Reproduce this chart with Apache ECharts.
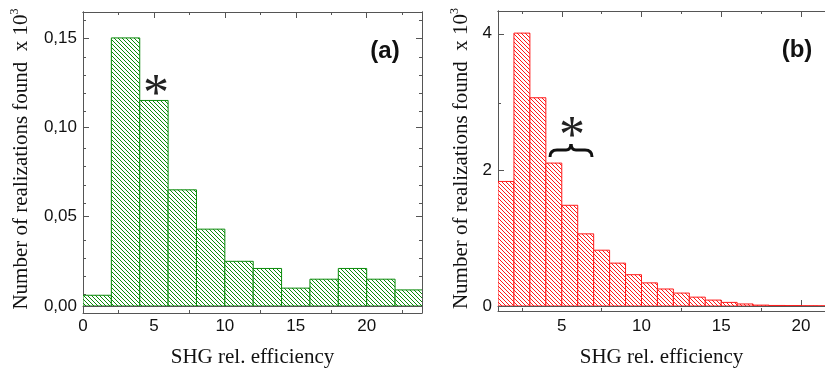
<!DOCTYPE html>
<html>
<head>
<meta charset="utf-8">
<script src="https://cdn.jsdelivr.net/npm/echarts@6/dist/echarts.min.js"></script>
<style>
  html, body { margin: 0; padding: 0; background: #fff; }
  #chart { width: 825px; height: 373px; }
</style>
</head>
<body>
<div id="chart"></div>
<script>
// panel (a): bins of width 2, starting at 0
const binsA = [0, 2, 4, 6, 8, 10, 12, 14, 16, 18, 20, 22];
const countsA = [0.006, 0.150, 0.115, 0.065, 0.043, 0.025, 0.021, 0.010, 0.015, 0.021, 0.015, 0.009];
const binWidthA = 2;
const xMajorA = [0, 5, 10, 15, 20];
const xMinorA = [2.5, 7.5, 12.5, 17.5, 22.5];
const yMajorA = [0, 0.05, 0.10, 0.15];
const yMinorA = [0.01, 0.02, 0.03, 0.04, 0.06, 0.07, 0.08, 0.09, 0.11, 0.12, 0.13, 0.14, 0.16];

// panel (b): bins of width 1, starting at 1
const binsB = [1, 2, 3, 4, 5, 6, 7, 8, 9, 10, 11, 12, 13, 14, 15, 16, 17, 18, 19, 20, 21];
const countsB = [1.83, 4.01, 3.06, 2.10, 1.48, 1.06, 0.82, 0.63, 0.46, 0.34, 0.25, 0.19, 0.13, 0.087, 0.053, 0.03, 0.013, 0.008, 0.006, 0.003, 0.002];
const binWidthB = 1;
const xMajorB = [5, 10, 15, 20];
const xMinorB = [2.5, 7.5, 12.5, 17.5];
const yMajorB = [0, 2, 4];
const yMinorB = [1, 3];

const axisColor = '#555';
const sans = 'Liberation Sans';
const serif = 'Liberation Serif';

function hatch(color) {
  const s = 4;
  const c = document.createElement('canvas');
  c.width = s; c.height = s;
  const ctx = c.getContext('2d');
  ctx.fillStyle = '#fff';
  ctx.fillRect(0, 0, s, s);
  ctx.strokeStyle = color;
  ctx.lineWidth = 1;
  ctx.beginPath();
  ctx.moveTo(-1, -1); ctx.lineTo(s + 1, s + 1);
  ctx.moveTo(-1, s - 1); ctx.lineTo(1, s + 1);
  ctx.moveTo(s - 1, -1); ctx.lineTo(s + 1, 1);
  ctx.stroke();
  return c;
}

function ax(gridIndex, position, min, max, ticks, len, extra) {
  return Object.assign({
    type: 'value', gridIndex, position, min, max,
    axisLine: { show: true, onZero: false, lineStyle: { color: axisColor, width: 1 } },
    axisTick: { show: true, inside: true, length: len, customValues: ticks, lineStyle: { color: axisColor } },
    axisLabel: { show: false },
    splitLine: { show: false }
  }, extra || {});
}

function tickLabels(values, fmt, margin) {
  return {
    show: true, customValues: values, formatter: fmt, margin,
    fontFamily: sans, fontSize: 17, color: '#111'
  };
}

const yName = '{t|Number of realizations found  x 10}{s|3}';
const yNameStyle = {
  rich: {
    t: { fontFamily: serif, fontSize: 21, color: '#111' },
    s: { fontFamily: serif, fontSize: 12, color: '#111', verticalAlign: 'top', padding: [0, 0, 12, 0] }
  }
};
const xNameStyle = { fontFamily: serif, fontSize: 21, color: '#111' };

const xMaxA = 23.9, yMaxA = 0.1645;
const xMinB = 1, xMaxB = 21.51, yMaxB = 4.335;

function histSeries(xi, yi, bins, width, counts, color) {
  const pattern = { image: hatch(color), repeat: 'repeat' };
  return {
    type: 'custom', xAxisIndex: xi, yAxisIndex: yi, clip: true,
    data: bins.map((b, i) => [b, b + width, counts[i]]),
    renderItem(params, api) {
      const tl = api.coord([api.value(0), api.value(2)]);
      const br = api.coord([api.value(1), 0]);
      return {
        type: 'rect',
        shape: { x: tl[0], y: tl[1], width: br[0] - tl[0], height: br[1] - tl[1] },
        style: { fill: pattern, stroke: color, lineWidth: 1 }
      };
    }
  };
}

// curly brace over the (b) bins, drawn as curves + lines
const braceStyle = { stroke: '#111', lineWidth: 3, fill: 'none' };
const brace = [
  { type: 'bezierCurve', shape: { x1: 550, y1: 157, cpx1: 550, cpy1: 150, x2: 557, y2: 150 }, style: braceStyle },
  { type: 'line', shape: { x1: 557, y1: 150, x2: 566, y2: 150 }, style: braceStyle },
  { type: 'bezierCurve', shape: { x1: 566, y1: 150, cpx1: 570.5, cpy1: 150, x2: 571, y2: 144 }, style: braceStyle },
  { type: 'bezierCurve', shape: { x1: 571, y1: 144, cpx1: 571.5, cpy1: 150, x2: 576, y2: 150 }, style: braceStyle },
  { type: 'line', shape: { x1: 576, y1: 150, x2: 585, y2: 150 }, style: braceStyle },
  { type: 'bezierCurve', shape: { x1: 585, y1: 150, cpx1: 592, cpy1: 150, x2: 592, y2: 157 }, style: braceStyle }
];

const chart = echarts.init(document.getElementById('chart'));

chart.setOption({
  animation: false,
  backgroundColor: '#fff',
  grid: [
    { left: 83, top: 12, width: 339, height: 301 },
    { left: 83, top: 12, width: 339, height: 301 },
    { left: 498, top: 11, width: 330, height: 300 },
    { left: 498, top: 11, width: 330, height: 300 }
  ],
  xAxis: [
    ax(0, 'bottom', 0, xMaxA, xMajorA, 6, {
      axisLabel: tickLabels(xMajorA, v => String(v), 12),
      name: 'SHG rel. efficiency', nameLocation: 'middle', nameGap: 41, nameTextStyle: xNameStyle
    }),
    ax(0, 'top', 0, xMaxA, xMajorA, 6),
    ax(1, 'bottom', 0, xMaxA, xMinorA, 3),
    ax(1, 'top', 0, xMaxA, xMinorA, 3),
    ax(2, 'bottom', xMinB, xMaxB, xMajorB, 6, {
      axisLabel: tickLabels(xMajorB, v => String(v), 12),
      name: 'SHG rel. efficiency', nameLocation: 'middle', nameGap: 41, nameTextStyle: xNameStyle
    }),
    ax(2, 'top', xMinB, xMaxB, xMajorB, 6),
    ax(3, 'bottom', xMinB, xMaxB, xMinorB, 3),
    ax(3, 'top', xMinB, xMaxB, xMinorB, 3)
  ],
  yAxis: [
    ax(0, 'left', 0, yMaxA, yMajorA, 6, {
      axisLabel: tickLabels(yMajorA, v => v.toFixed(2).replace('.', ','), 6),
      name: yName, nameLocation: 'middle', nameRotate: 90, nameGap: 50, nameTextStyle: yNameStyle
    }),
    ax(0, 'right', 0, yMaxA, yMajorA, 6),
    ax(1, 'left', 0, yMaxA, yMinorA, 3),
    ax(1, 'right', 0, yMaxA, yMinorA, 3),
    ax(2, 'left', 0, yMaxB, yMajorB, 6, {
      axisLabel: tickLabels(yMajorB, v => String(v), 6),
      name: yName, nameLocation: 'middle', nameRotate: 90, nameGap: 25, nameTextStyle: yNameStyle
    }),
    ax(3, 'left', 0, yMaxB, yMinorB, 3)
  ],
  series: [
    histSeries(0, 0, binsA, binWidthA, countsA, '#0a8a0a'),
    histSeries(4, 4, binsB, binWidthB, countsB, '#ff1a1a')
  ],
  graphic: [
    { type: 'text', x: 385, y: 51, style: { text: '(a)', font: 'bold 24px "Liberation Sans"', fill: '#111', align: 'center', verticalAlign: 'middle' } },
    { type: 'text', x: 797, y: 50, style: { text: '(b)', font: 'bold 24px "Liberation Sans"', fill: '#111', align: 'center', verticalAlign: 'middle' } },
    { type: 'text', x: 156, y: 96, style: { text: '*', font: '52px "Liberation Serif"', fill: '#222', align: 'center', verticalAlign: 'middle' } },
    { type: 'text', x: 572, y: 138, style: { text: '*', font: '52px "Liberation Serif"', fill: '#222', align: 'center', verticalAlign: 'middle' } }
  ].concat(brace)
});
</script>
</body>
</html>
